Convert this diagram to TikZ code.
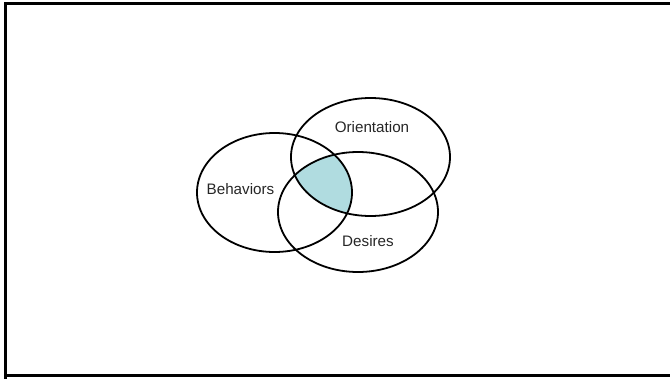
\documentclass[tikz,border=0pt]{standalone}
\usepackage{fontspec}
\setmainfont{Liberation Sans}
\definecolor{venncol}{RGB}{176,220,224}
\begin{document}
\begin{tikzpicture}[x=1pt,y=-1pt,
  ell/.style={draw=black,line width=1.8pt},
  lbl/.style={font=\fontsize{15.2}{17}\selectfont,text=black!85,inner sep=0pt}]
\useasboundingbox (0,0) rectangle (670,378);
\begin{scope}
\clip (0,0) rectangle (670,378);
\draw[line width=2.4pt] (5.5,700) -- (5.5,3.5) -- (690,3.5);
\draw[line width=2.4pt] (5.5,375.5) -- (690,375.5);
\end{scope}
\begin{scope}
\clip (274.5,192.5) ellipse [x radius=77.5,y radius=59.5];
\clip (370.5,157) ellipse [x radius=79.5,y radius=59];
\fill[venncol] (358,212) ellipse [x radius=80,y radius=60];
\end{scope}
\draw[ell] (274.5,192.5) ellipse [x radius=77.5,y radius=59.5];
\draw[ell] (370.5,157) ellipse [x radius=79.5,y radius=59];
\draw[ell] (358,212) ellipse [x radius=80,y radius=60];
\node[lbl] (orient) at (372,127.5) {Orientation};
\node[lbl] (behav) at (240.5,189.5) {Behaviors};
\node[lbl] (desir) at (368,241.5) {Desires};
\end{tikzpicture}
\end{document}
